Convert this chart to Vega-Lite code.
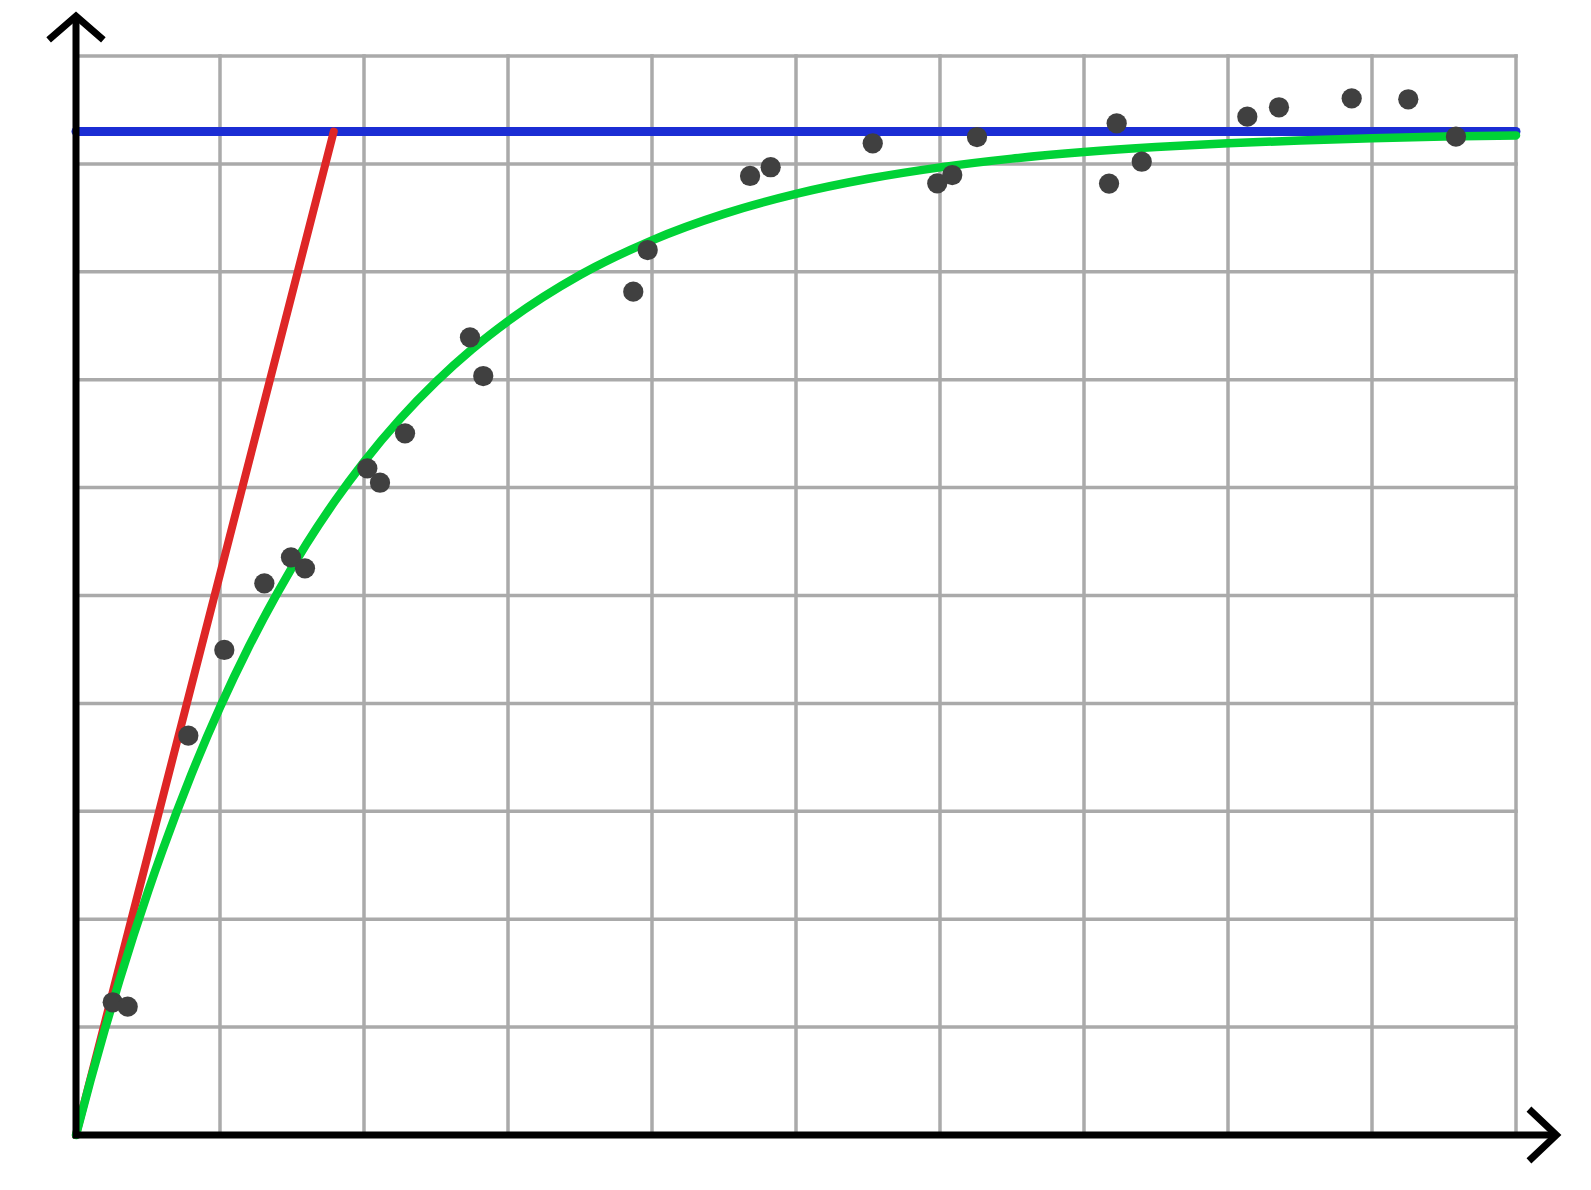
{
  "$schema": "https://vega.github.io/schema/vega-lite/v6.json",
  "width": 1591,
  "height": 1190,
  "autosize": "none",
  "padding": 0,
  "background": "white",
  "config": {"view": {"stroke": null}},
  "datasets": {
    "grid": [
      {"x": 1, "x2": 1, "y": 0, "y2": 10},
      {"x": 2, "x2": 2, "y": 0, "y2": 10},
      {"x": 3, "x2": 3, "y": 0, "y2": 10},
      {"x": 4, "x2": 4, "y": 0, "y2": 10},
      {"x": 5, "x2": 5, "y": 0, "y2": 10},
      {"x": 6, "x2": 6, "y": 0, "y2": 10},
      {"x": 7, "x2": 7, "y": 0, "y2": 10},
      {"x": 8, "x2": 8, "y": 0, "y2": 10},
      {"x": 9, "x2": 9, "y": 0, "y2": 10},
      {"x": 10, "x2": 10, "y": 0, "y2": 10},
      {"x": 0, "x2": 10, "y": 1, "y2": 1},
      {"x": 0, "x2": 10, "y": 2, "y2": 2},
      {"x": 0, "x2": 10, "y": 3, "y2": 3},
      {"x": 0, "x2": 10, "y": 4, "y2": 4},
      {"x": 0, "x2": 10, "y": 5, "y2": 5},
      {"x": 0, "x2": 10, "y": 6, "y2": 6},
      {"x": 0, "x2": 10, "y": 7, "y2": 7},
      {"x": 0, "x2": 10, "y": 8, "y2": 8},
      {"x": 0, "x2": 10, "y": 9, "y2": 9},
      {"x": 0, "x2": 10, "y": 10, "y2": 10}
    ],
    "axes": [
      {"g": "yaxis", "o": 0, "x": 0, "y": -0.03},
      {"g": "yaxis", "o": 1, "x": 0, "y": 10.37},
      {"g": "yarrow", "o": 0, "x": -0.19, "y": 10.15},
      {"g": "yarrow", "o": 1, "x": 0, "y": 10.37},
      {"g": "yarrow", "o": 2, "x": 0.19, "y": 10.15},
      {"g": "xaxis", "o": 0, "x": -0.02, "y": 0},
      {"g": "xaxis", "o": 1, "x": 10.28, "y": 0},
      {"g": "xarrow", "o": 0, "x": 10.09, "y": 0.24},
      {"g": "xarrow", "o": 1, "x": 10.28, "y": 0},
      {"g": "xarrow", "o": 2, "x": 10.09, "y": -0.24}
    ],
    "blue": [
      {"x": 0, "y": 9.3},
      {"x": 10, "y": 9.3}
    ],
    "red": [
      {"x": 0, "y": 0},
      {"x": 1.79, "y": 9.3}
    ],
    "green": [
      {"x": 0, "y": 0},
      {"x": 0.1, "y": 0.503},
      {"x": 0.2, "y": 0.978},
      {"x": 0.3, "y": 1.428},
      {"x": 0.4, "y": 1.853},
      {"x": 0.5, "y": 2.256},
      {"x": 0.6, "y": 2.636},
      {"x": 0.8, "y": 3.337},
      {"x": 1.0, "y": 3.964},
      {"x": 1.2, "y": 4.525},
      {"x": 1.4, "y": 5.027},
      {"x": 1.6, "y": 5.477},
      {"x": 1.8, "y": 5.879},
      {"x": 2.0, "y": 6.239},
      {"x": 2.25, "y": 6.636},
      {"x": 2.5, "y": 6.981},
      {"x": 2.75, "y": 7.282},
      {"x": 3.0, "y": 7.543},
      {"x": 3.5, "y": 7.97},
      {"x": 4.0, "y": 8.292},
      {"x": 4.5, "y": 8.537},
      {"x": 5.0, "y": 8.722},
      {"x": 5.5, "y": 8.862},
      {"x": 6.0, "y": 8.968},
      {"x": 6.5, "y": 9.049},
      {"x": 7.0, "y": 9.11},
      {"x": 7.5, "y": 9.156},
      {"x": 8.0, "y": 9.191},
      {"x": 8.5, "y": 9.217},
      {"x": 9.0, "y": 9.237},
      {"x": 9.5, "y": 9.253},
      {"x": 10.0, "y": 9.264}
    ],
    "points": [
      {"x": 0.255, "y": 1.23},
      {"x": 0.359, "y": 1.189},
      {"x": 0.78, "y": 3.701},
      {"x": 1.03, "y": 4.495},
      {"x": 1.308, "y": 5.113},
      {"x": 1.493, "y": 5.354},
      {"x": 1.59, "y": 5.252},
      {"x": 2.023, "y": 6.179},
      {"x": 2.111, "y": 6.045},
      {"x": 2.285, "y": 6.503},
      {"x": 2.736, "y": 7.393},
      {"x": 2.828, "y": 7.034},
      {"x": 3.87, "y": 7.816},
      {"x": 3.97, "y": 8.202},
      {"x": 4.681, "y": 8.888},
      {"x": 4.824, "y": 8.969},
      {"x": 5.533, "y": 9.191},
      {"x": 5.981, "y": 8.82},
      {"x": 6.085, "y": 8.897},
      {"x": 6.257, "y": 9.249},
      {"x": 7.174, "y": 8.818},
      {"x": 7.227, "y": 9.376},
      {"x": 7.401, "y": 9.02},
      {"x": 8.134, "y": 9.438},
      {"x": 8.354, "y": 9.525},
      {"x": 8.859, "y": 9.608},
      {"x": 9.252, "y": 9.599},
      {"x": 9.583, "y": 9.252}
    ]
  },
  "layer": [
    {
      "data": {"name": "grid"},
      "mark": {"type": "rule", "color": "#aaaaaa", "strokeWidth": 3.5, "strokeCap": "square"},
      "encoding": {
        "x": {"field": "x", "type": "quantitative", "scale": {"domain": [-0.52778, 10.52083], "nice": false, "zero": false}, "axis": null},
        "x2": {"field": "x2"},
        "y": {"field": "y", "type": "quantitative", "scale": {"domain": [-0.50973, 10.519], "nice": false, "zero": false}, "axis": null},
        "y2": {"field": "y2"}
      }
    },
    {
      "data": {"name": "blue"},
      "mark": {"type": "line", "color": "#1b2dd4", "strokeWidth": 9, "strokeCap": "round"},
      "encoding": {
        "x": {"field": "x", "type": "quantitative", "scale": {"domain": [-0.52778, 10.52083], "nice": false, "zero": false}, "axis": null},
        "y": {"field": "y", "type": "quantitative", "scale": {"domain": [-0.50973, 10.519], "nice": false, "zero": false}, "axis": null}
      }
    },
    {
      "data": {"name": "red"},
      "mark": {"type": "line", "color": "#de2626", "strokeWidth": 8, "strokeCap": "round"},
      "encoding": {
        "x": {"field": "x", "type": "quantitative", "scale": {"domain": [-0.52778, 10.52083], "nice": false, "zero": false}, "axis": null},
        "y": {"field": "y", "type": "quantitative", "scale": {"domain": [-0.50973, 10.519], "nice": false, "zero": false}, "axis": null}
      }
    },
    {
      "data": {"name": "green"},
      "mark": {"type": "line", "color": "#00d236", "strokeWidth": 8.5, "strokeCap": "round", "interpolate": "monotone"},
      "encoding": {
        "x": {"field": "x", "type": "quantitative", "scale": {"domain": [-0.52778, 10.52083], "nice": false, "zero": false}, "axis": null},
        "y": {"field": "y", "type": "quantitative", "scale": {"domain": [-0.50973, 10.519], "nice": false, "zero": false}, "axis": null}
      }
    },
    {
      "data": {"name": "axes"},
      "mark": {"type": "line", "color": "black", "strokeWidth": 7, "strokeCap": "butt", "strokeJoin": "miter"},
      "encoding": {
        "x": {"field": "x", "type": "quantitative", "scale": {"domain": [-0.52778, 10.52083], "nice": false, "zero": false}, "axis": null},
        "y": {"field": "y", "type": "quantitative", "scale": {"domain": [-0.50973, 10.519], "nice": false, "zero": false}, "axis": null},
        "detail": {"field": "g", "type": "nominal"},
        "order": {"field": "o", "type": "quantitative"}
      }
    },
    {
      "data": {"name": "points"},
      "mark": {"type": "circle", "color": "#404040", "opacity": 1, "size": 410},
      "encoding": {
        "x": {"field": "x", "type": "quantitative", "scale": {"domain": [-0.52778, 10.52083], "nice": false, "zero": false}, "axis": null},
        "y": {"field": "y", "type": "quantitative", "scale": {"domain": [-0.50973, 10.519], "nice": false, "zero": false}, "axis": null}
      }
    }
  ]
}
